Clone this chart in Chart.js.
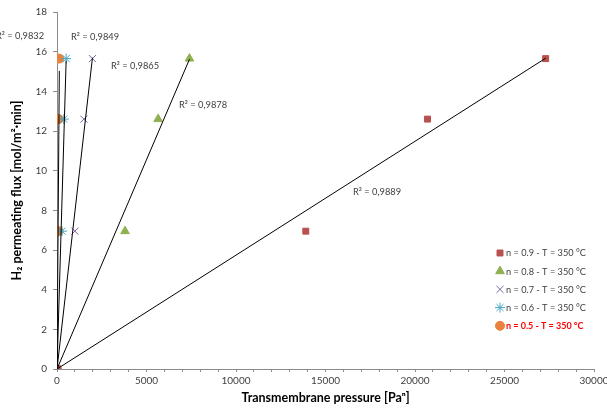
<!DOCTYPE html>
<html>
<head>
<meta charset="utf-8">
<script src="https://cdn.jsdelivr.net/npm/chart.js@4.4.1/dist/chart.umd.min.js"></script>
<style>
  html, body { margin: 0; padding: 0; background: #fff; }
  #wrap { width: 607px; height: 412px; }
</style>
</head>
<body>
<div id="wrap"><canvas id="chart" width="607" height="412"></canvas></div>
<script>
// Flux values (same for every series)
const flux = [0, 6.95, 12.6, 15.65];

// Transmembrane pressure [Pa^n] for each exponent n
const p09 = [0, 13900, 20700, 27300];
const p08 = [0, 3800, 5650, 7400];
const p07 = [0, 1000, 1500, 1980];
const p06 = [0, 280, 380, 510];
const p05 = [0, 80, 100, 130];

const seriesNames = [
  "n = 0.9 - T = 350 °C",
  "n = 0.8 - T = 350 °C",
  "n = 0.7 - T = 350 °C",
  "n = 0.6 - T = 350 °C",
  "n = 0.5 - T = 350 °C"
];
const r2Values = ["0,9889", "0,9878", "0,9865", "0,9849", "0,9832"];

const xTicks = [0, 5000, 10000, 15000, 20000, 25000, 30000];
const yTicks = [0, 2, 4, 6, 8, 10, 12, 14, 16, 18];

// styling for each series
const styles = [
  { color: "#b9504d", pointStyle: "rect", radius: 4.2 },
  { color: "#8fb050", pointStyle: "triangle", radius: 5 },
  { color: "#7b62a0", pointStyle: "crossRot", radius: 5 },
  { color: "#45a8c4", pointStyle: "star", radius: 5 },
  { color: "#e8823e", pointStyle: "circle", radius: 4.5 }
];
// where each R² label sits (data coords)
const r2Pos = [
  { x: 17877, y: 8.9 },
  { x: 8156, y: 13.32 },
  { x: 4358, y: 15.28 },
  { x: 2123, y: 16.74 },
  { x: -2067, y: 16.79 }
];

const allX = [p09, p08, p07, p06, p05];

// trend line through the origin (least squares)
function trend(xs) {
  let sxy = 0, sxx = 0;
  xs.forEach((x, i) => { sxy += x * flux[i]; sxx += x * x; });
  const slope = sxy / sxx;
  const xmax = Math.max(...xs);
  return [{ x: 0, y: 0 }, { x: xmax, y: slope * xmax }];
}

const datasets = [];
allX.forEach((xs) => {
  datasets.push({
    type: "line",
    data: trend(xs),
    borderColor: "#000",
    borderWidth: 1,
    pointRadius: 0,
    fill: false
  });
});
allX.forEach((xs, i) => {
  const s = styles[i];
  datasets.push({
    label: seriesNames[i],
    data: xs.map((x, j) => ({ x: x, y: flux[j] })),
    pointStyle: s.pointStyle,
    pointRadius: s.radius,
    backgroundColor: s.color,
    borderColor: s.color,
    borderWidth: 1
  });
});

const font = "Lato";

const extras = {
  id: "extras",
  afterDraw(chart) {
    const ctx = chart.ctx;
    const xs = chart.scales.x, ys = chart.scales.y;
    ctx.save();
    // R² labels
    ctx.font = "9.3px " + font;
    ctx.fillStyle = "#404040";
    ctx.textAlign = "center";
    ctx.textBaseline = "middle";
    r2Values.forEach((v, i) => {
      ctx.fillText("R² = " + v, xs.getPixelForValue(r2Pos[i].x), ys.getPixelForValue(r2Pos[i].y));
    });
    // legend
    const lx = 500, ly0 = 253, dy = 18.2;
    ctx.textAlign = "left";
    seriesNames.forEach((name, i) => {
      const s = styles[i];
      const y = ly0 + i * dy;
      ctx.fillStyle = s.color;
      ctx.strokeStyle = s.color;
      ctx.lineWidth = 1;
      Chart.helpers.drawPoint(ctx, { pointStyle: s.pointStyle, radius: s.radius, borderWidth: 1, rotation: 0 }, lx, y);
      if (i === 4) {
        ctx.fillStyle = "#ff0000";
        ctx.font = "bold 9px " + font;
      } else {
        ctx.fillStyle = "#404040";
        ctx.font = "9.2px " + font;
      }
      ctx.fillText(name, lx + 6, y + 0.5);
    });
    ctx.restore();
  }
};

new Chart(document.getElementById("chart"), {
  type: "scatter",
  data: { datasets: datasets },
  options: {
    responsive: false,
    animation: false,
    layout: { padding: { top: 11, right: 13, left: 9, bottom: 7 } },
    plugins: { legend: { display: false }, tooltip: { enabled: false } },
    scales: {
      x: {
        type: "linear",
        min: xTicks[0],
        max: xTicks[xTicks.length - 1],
        afterFit(s) { s.height = 36; s.paddingLeft = 0; s.paddingRight = 0; },
        ticks: {
          stepSize: 1000,
          autoSkip: false,
          maxRotation: 0,
          padding: 3,
          color: "#404040",
          font: { family: font, size: 10 },
          callback: (v) => (xTicks.includes(v) ? String(v) : "")
        },
        grid: { drawOnChartArea: false, tickLength: 3, color: "#8c8c8c" },
        border: { color: "#8c8c8c" },
        title: {
          display: true,
          text: "Transmembrane pressure [Paⁿ]",
          color: "#000",
          font: { family: font, size: 12.5, weight: "bold" },
          padding: { top: 2, bottom: 0 }
        }
      },
      y: {
        min: yTicks[0],
        max: yTicks[yTicks.length - 1],
        afterFit(s) { s.width = 48; },
        afterBuildTicks(s) { s.ticks = yTicks.map((v) => ({ value: v })); },
        ticks: {
          color: "#404040",
          padding: 6,
          font: { family: font, size: 10 }
        },
        grid: { drawOnChartArea: false, tickLength: 4, color: "#8c8c8c" },
        border: { color: "#8c8c8c" },
        title: {
          display: true,
          text: "H₂ permeating flux [mol/m²·min]",
          color: "#000",
          font: { family: font, size: 12.5, weight: "bold" },
          padding: { top: 0, bottom: 8 }
        }
      }
    }
  },
  plugins: [extras]
});
</script>
</body>
</html>
